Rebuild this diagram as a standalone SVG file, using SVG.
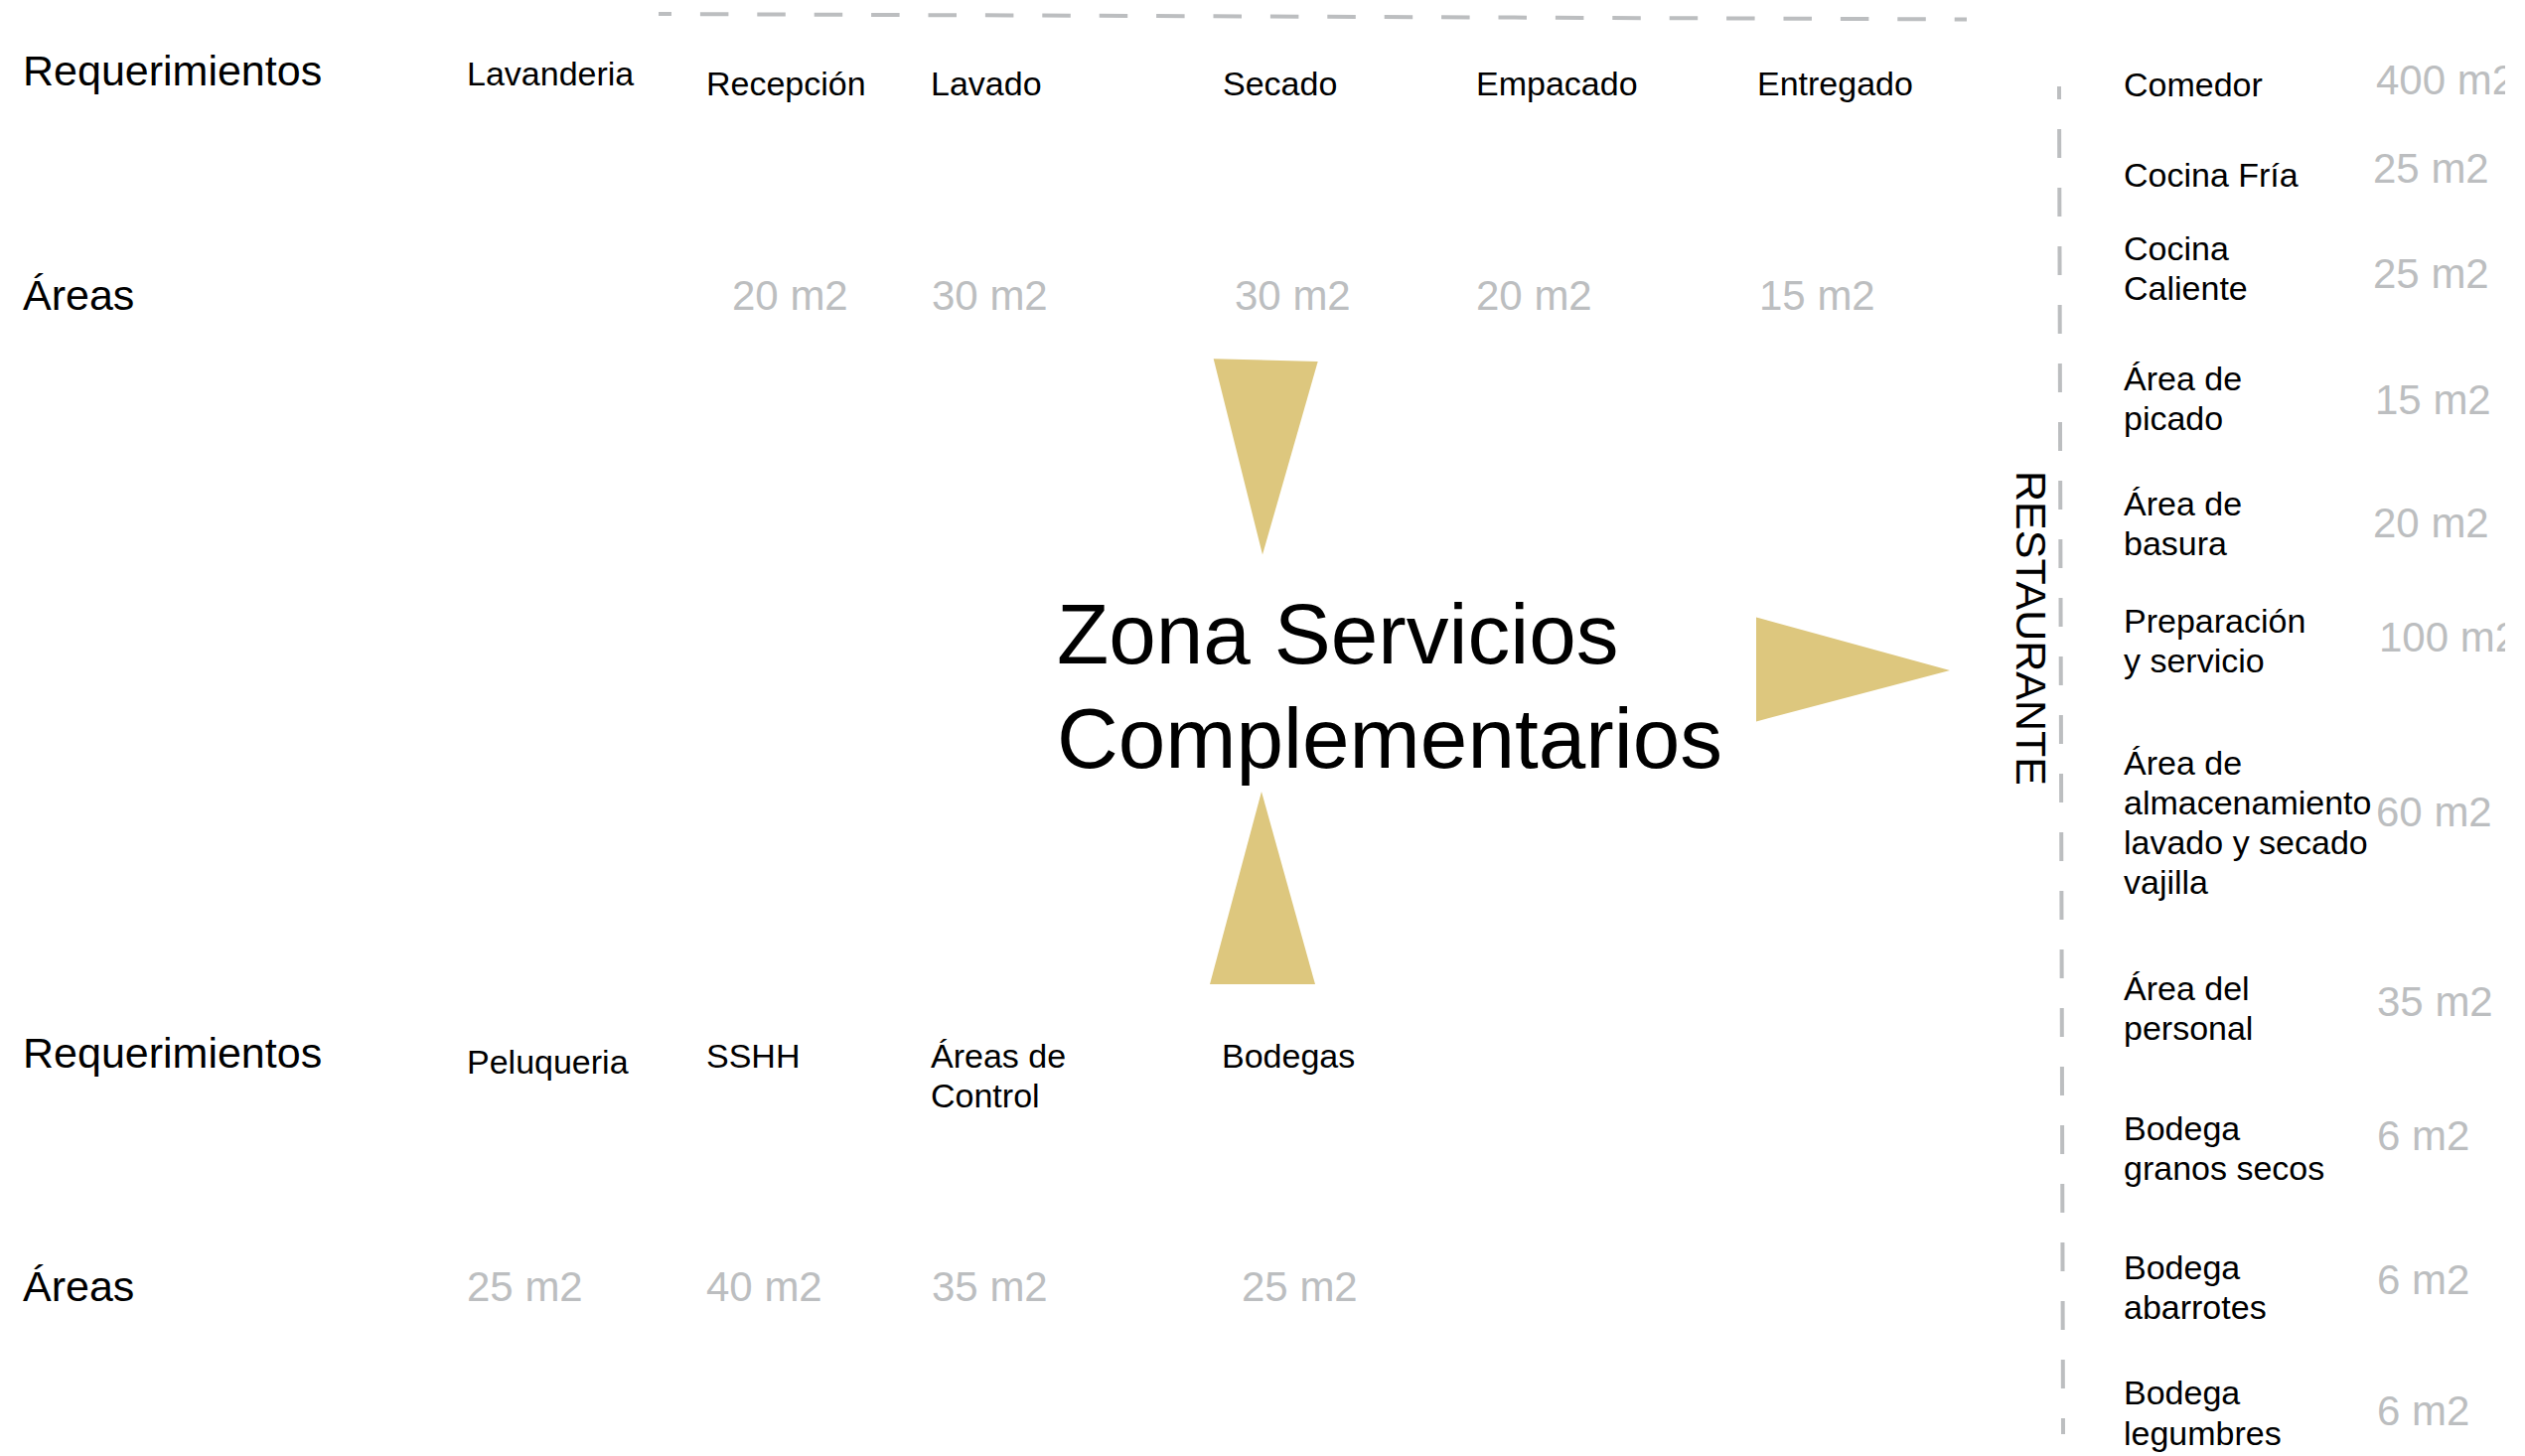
<svg xmlns="http://www.w3.org/2000/svg" width="2542" height="1466" viewBox="0 0 2542 1466">
<style>
text{font-family:"Liberation Sans",Arial,Helvetica,sans-serif;}
.h{font-size:43px;fill:#000;}
.l{font-size:34px;fill:#000;}
.a{font-size:42px;fill:#BCBEC0;}
.t{font-size:85.5px;fill:#000;}
.r{font-size:43px;fill:#000;}
.dash{stroke:#BCBEC0;stroke-width:4;fill:none;}
.tri{fill:#DDC77E;}
</style>
<defs>
<clipPath id="rclip"><rect x="0" y="0" width="2522" height="1466"/></clipPath>
</defs>
<rect width="2542" height="1466" fill="#fff"/>

<g id="dividers">
<line class="dash" x1="663" y1="14" x2="1980" y2="19.5" stroke-dasharray="28.5 28.9" stroke-dashoffset="15.5"/>
<line class="dash" x1="2073" y1="87" x2="2077" y2="1444" stroke-dasharray="29 30" stroke-dashoffset="16"/>
</g>

<g id="connectors">
<polygon class="tri" points="1221.7,361.2 1326.7,364 1271,558.6"/>
<polygon class="tri" points="1218,991 1324,991 1270,797"/>
<polygon class="tri" points="1768,621.5 1768,726.5 1963,675"/>
</g>

<g id="center">
<text class="t" x="1064" y="668">Zona Servicios</text>
<text class="t" x="1064" y="773">Complementarios</text>
</g>

<g id="top-row">
<text class="h" x="23" y="86">Requerimientos</text>
<text class="h" x="23" y="312">Áreas</text>
<g id="lavanderia"><text class="l" x="470" y="86">Lavanderia</text></g>
<g id="recepcion"><text class="l" x="711" y="96">Recepción</text><text class="a" x="737" y="312">20 m2</text></g>
<g id="lavado"><text class="l" x="937" y="96">Lavado</text><text class="a" x="938" y="312">30 m2</text></g>
<g id="secado"><text class="l" x="1231" y="96">Secado</text><text class="a" x="1243" y="312">30 m2</text></g>
<g id="empacado"><text class="l" x="1486" y="96">Empacado</text><text class="a" x="1486" y="312">20 m2</text></g>
<g id="entregado"><text class="l" x="1769" y="96">Entregado</text><text class="a" x="1771" y="312">15 m2</text></g>
</g>

<g id="bottom-row">
<text class="h" x="23" y="1075">Requerimientos</text>
<text class="h" x="23" y="1310">Áreas</text>
<g id="peluqueria"><text class="l" x="470" y="1081">Peluqueria</text><text class="a" x="470" y="1310">25 m2</text></g>
<g id="sshh"><text class="l" x="711" y="1075">SSHH</text><text class="a" x="711" y="1310">40 m2</text></g>
<g id="control"><text class="l" x="937" y="1075">Áreas de</text><text class="l" x="937" y="1115">Control</text><text class="a" x="938" y="1310">35 m2</text></g>
<g id="bodegas"><text class="l" x="1230" y="1075">Bodegas</text><text class="a" x="1250" y="1310">25 m2</text></g>
</g>

<g id="restaurante">
<text class="r" transform="translate(2030,474) rotate(90)">RESTAURANTE</text>
<g id="comedor"><text class="l" x="2138" y="97">Comedor</text><text class="a" x="2392" y="95" clip-path="url(#rclip)">400 m2</text></g>
<g id="cocina-fria"><text class="l" x="2138" y="188">Cocina Fría</text><text class="a" x="2389" y="184">25 m2</text></g>
<g id="cocina-caliente"><text class="l" x="2138" y="262">Cocina</text><text class="l" x="2138" y="302">Caliente</text><text class="a" x="2389" y="290">25 m2</text></g>
<g id="picado"><text class="l" x="2138" y="393">Área de</text><text class="l" x="2138" y="433">picado</text><text class="a" x="2391" y="417">15 m2</text></g>
<g id="basura"><text class="l" x="2138" y="519">Área de</text><text class="l" x="2138" y="559">basura</text><text class="a" x="2389" y="541">20 m2</text></g>
<g id="preparacion"><text class="l" x="2138" y="637">Preparación</text><text class="l" x="2138" y="677">y servicio</text><text class="a" x="2395" y="656" clip-path="url(#rclip)">100 m2</text></g>
<g id="almacenamiento"><text class="l" x="2138" y="780">Área de</text><text class="l" x="2138" y="820">almacenamiento</text><text class="l" x="2138" y="860">lavado y secado</text><text class="l" x="2138" y="900">vajilla</text><text class="a" x="2392" y="832">60 m2</text></g>
<g id="personal"><text class="l" x="2138" y="1007">Área del</text><text class="l" x="2138" y="1047">personal</text><text class="a" x="2393" y="1023">35 m2</text></g>
<g id="granos"><text class="l" x="2138" y="1148">Bodega</text><text class="l" x="2138" y="1188">granos secos</text><text class="a" x="2393" y="1158">6 m2</text></g>
<g id="abarrotes"><text class="l" x="2138" y="1288">Bodega</text><text class="l" x="2138" y="1328">abarrotes</text><text class="a" x="2393" y="1303">6 m2</text></g>
<g id="legumbres"><text class="l" x="2138" y="1414">Bodega</text><text class="l" x="2138" y="1455">legumbres</text><text class="a" x="2393" y="1435">6 m2</text></g>
</g>
</svg>
